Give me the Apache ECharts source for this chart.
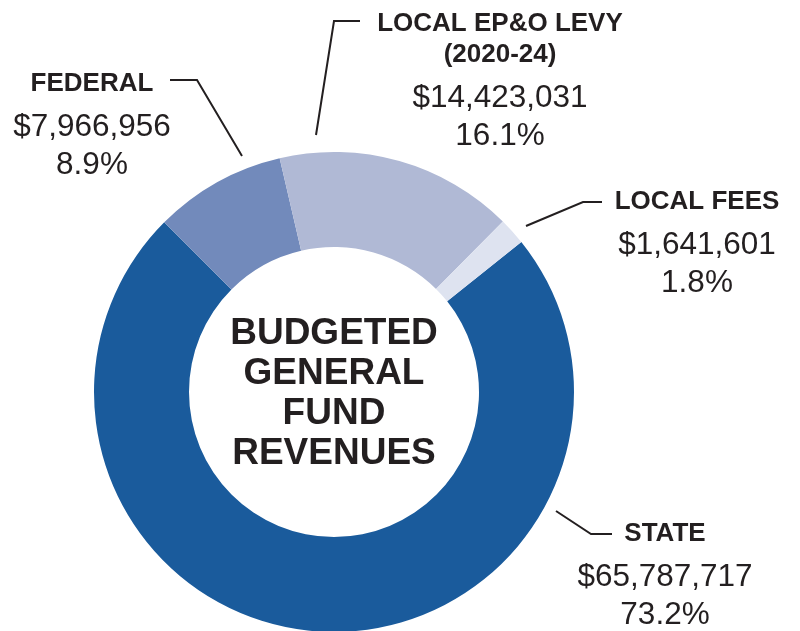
<!DOCTYPE html>
<html>
<head>
<meta charset="utf-8">
<script src="https://cdn.jsdelivr.net/npm/echarts@6/dist/echarts.min.js"></script>
<style>
  html, body { margin: 0; padding: 0; background: #fff; }
  #main { width: 800px; height: 631px; }
</style>
</head>
<body>
<div id="main"></div>
<script>
// data
var names = ['STATE', 'FEDERAL', 'LOCAL EP&O LEVY\n(2020-24)', 'LOCAL FEES'];
var amounts = [65787717, 7966956, 14423031, 1641601];
var colors = ['#1a5b9c', '#728abb', '#b0b9d5', '#dee3f0'];

// label blocks (center x, top y) and leader lines, by data index
var labelPos = [
    { x: 665, y: 518, line: [[556, 511], [591, 534], [612, 534]] },
    { x: 92, y: 68, line: [[242, 156], [197, 80], [170, 80]] },
    { x: 500, y: 8, line: [[316, 135], [334, 21], [360, 21]] },
    { x: 697, y: 186, line: [[526, 226], [583, 202], [602, 202]] }
];

var font = 'Liberation Sans, Arial, Helvetica, sans-serif';
var ink = '#231f20';

var myChart = echarts.init(document.getElementById('main'));

var option = {
    animation: false,
    title: {
        text: 'BUDGETED\nGENERAL\nFUND\nREVENUES',
        left: 329,
        top: 389,
        textAlign: 'center',
        textVerticalAlign: 'middle',
        textStyle: {
            fontFamily: font,
            fontWeight: 'bold',
            fontSize: 37,
            lineHeight: 40,
            color: ink
        }
    },
    series: [{
        type: 'pie',
        center: [334, 392],
        radius: [145, 240],
        startAngle: 38.7,
        clockwise: true,
        percentPrecision: 1,
        avoidLabelOverlap: false,
        emphasis: { disabled: true },
        itemStyle: { borderWidth: 0 },
        data: names.map(function (n, i) {
            return { name: n, value: amounts[i], itemStyle: { color: colors[i] } };
        }),
        label: {
            show: true,
            position: 'outside',
            alignTo: 'none',
            color: ink,
            fontFamily: font,
            formatter: function (p) {
                var nameLines = p.name.split('\n').map(function (s) {
                    return '{n|' + s + '}';
                }).join('\n');
                return nameLines + '\n{g| }\n{v|$' + p.value.toLocaleString('en-US') + '}\n{v|' + p.percent.toFixed(1) + '%}';
            },
            rich: {
                n: { fontFamily: font, fontWeight: 'bold', fontSize: 26, lineHeight: 31, color: ink, align: 'center' },
                g: { fontSize: 1, lineHeight: 9 },
                v: { fontFamily: font, fontSize: 31.5, lineHeight: 38, color: ink, align: 'center' }
            }
        },
        labelLine: {
            show: true,
            smooth: false,
            lineStyle: { color: ink, width: 2 }
        },
        labelLayout: function (params) {
            var pos = labelPos[params.dataIndex];
            return {
                x: pos.x,
                y: pos.y,
                align: 'center',
                verticalAlign: 'top',
                labelLinePoints: pos.line
            };
        }
    }]
};

myChart.setOption(option);
</script>
</body>
</html>
